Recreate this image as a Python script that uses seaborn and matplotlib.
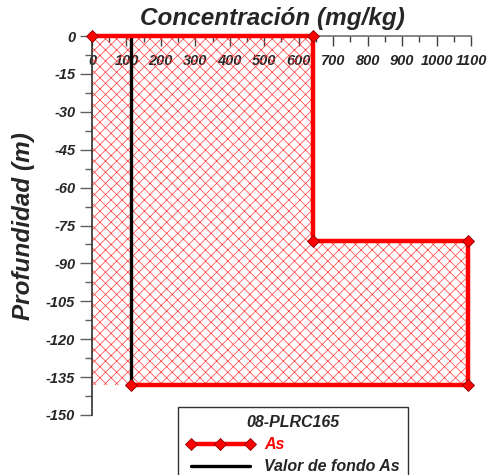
import matplotlib
matplotlib.use("Agg")
import matplotlib.pyplot as plt
import seaborn as sns
import numpy as np
from matplotlib.ticker import MultipleLocator

# ---- data ----
profile_conc = [0, 640, 640, 1090, 1090, 112]      # mg/kg
profile_depth = [0, 0, -81, -81, -138, -138]       # m
fill_depth = [0, -81, -81, -138]
fill_conc = [640, 640, 1090, 1090]
background_value = 112
background_depth = [0, -138]
sample_name = "08-PLRC165"
x_ticks = [0, 100, 200, 300, 400, 500, 600, 700, 800, 900, 1000, 1100]
y_ticks = [0, -15, -30, -45, -60, -75, -90, -105, -120, -135, -150]

sns.set_style("white")
plt.rcParams["font.family"] = ["Liberation Sans", "DejaVu Sans"]
plt.rcParams["hatch.linewidth"] = 0.5

fig = plt.figure(figsize=(4.89, 4.75), dpi=100)
ax = fig.add_axes([92/489, 1-415/475, (471-92)/489, (415-36)/475])

# hatched fill
ax.fill_betweenx(fill_depth, 0, fill_conc, facecolor="none", edgecolor="#ff3a3a",
                 linewidth=0, hatch="xxx", zorder=1)

# background line
sns.lineplot(x=[background_value]*len(background_depth), y=background_depth, ax=ax,
             color="black", linewidth=2.4, sort=False, estimator=None,
             label="Valor de fondo As", zorder=3)
# As profile
sns.lineplot(x=profile_conc, y=profile_depth, ax=ax, color="red", linewidth=3.2,
             sort=False, estimator=None, marker="D", markersize=6.5,
             markerfacecolor="red", markeredgecolor="#8b0000", markeredgewidth=0.6,
             label="As", zorder=4, clip_on=False)
handles, labels = ax.get_legend_handles_labels()
if ax.get_legend() is not None:
    ax.get_legend().remove()

ax.set_xlim(0, 1100)
ax.set_ylim(-150, 0)

for s in ["right", "bottom"]:
    ax.spines[s].set_visible(False)
ax.spines["top"].set_color("#707070")
ax.spines["top"].set_linewidth(1.2)
ax.spines["left"].set_color("#303030")
ax.spines["left"].set_linewidth(1.2)

ax.set_xticks(x_ticks)
ax.set_xticklabels([str(v) for v in x_ticks])
ax.xaxis.set_minor_locator(MultipleLocator(50))
ax.set_yticks(y_ticks)
ax.set_yticklabels([str(v) for v in y_ticks])
ax.yaxis.set_minor_locator(MultipleLocator(7.5))

ax.tick_params(axis="x", which="both", top=True, bottom=False, labeltop=True,
               labelbottom=False, direction="in", color="#404040", width=1.0)
ax.tick_params(axis="x", which="major", length=7, pad=-23)
ax.tick_params(axis="x", which="minor", length=4)
ax.tick_params(axis="y", which="both", left=True, direction="out", color="#606060", width=1.0)
ax.tick_params(axis="y", which="major", length=9, pad=3)
ax.tick_params(axis="y", which="minor", length=5)

for lab in ax.get_xticklabels() + ax.get_yticklabels():
    lab.set_fontweight("bold")
    lab.set_fontstyle("italic")
    lab.set_fontsize(10.5)

fig.text(272/489, 1-19/475, "Concentración (mg/kg)", ha="center", va="center",
         fontsize=17.5, fontweight="bold", fontstyle="italic")
fig.text(24/489, 1-226/475, "Profundidad (m)", ha="center", va="center", rotation=90,
         fontsize=17.5, fontweight="bold", fontstyle="italic")

order = [labels.index("As"), labels.index("Valor de fondo As")]
leg = fig.legend([handles[i] for i in order], [labels[i] for i in order],
                 loc="upper left", bbox_to_anchor=(178/489, 1-407/475),
                 title=sample_name, frameon=True, fancybox=False, edgecolor="#333333",
                 framealpha=1, numpoints=3, handlelength=4.3, handletextpad=0.6,
                 borderpad=0.5, labelspacing=0.45, borderaxespad=0,
                 prop={"weight": "bold", "style": "italic", "size": 11.5})
leg.get_title().set_fontweight("bold")
leg.get_title().set_fontstyle("italic")
leg.get_title().set_fontsize(11.5)
leg.get_texts()[0].set_color("red")
leg.get_frame().set_linewidth(1.0)

fig.savefig("out.png", dpi=100)
